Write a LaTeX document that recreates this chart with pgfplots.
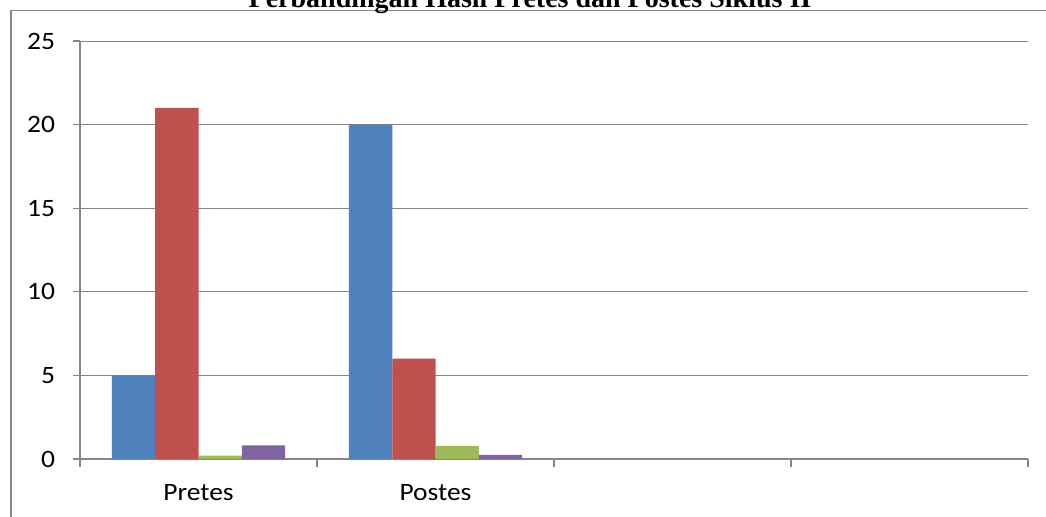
\documentclass[border=0pt]{standalone}
\usepackage{pgfplots}
\pgfplotsset{compat=1.18}
\usepackage{fontspec}
\setmainfont{Carlito}[FakeStretch=1.1]
\newfontfamily\titlefont{Liberation Serif}
\definecolor{cblue}{HTML}{4F81BD}
\definecolor{cred}{HTML}{C0504D}
\definecolor{cgreen}{HTML}{9BBB59}
\definecolor{cpurple}{HTML}{8064A2}
\definecolor{cgrid}{HTML}{868686}
\begin{document}
\begin{tikzpicture}
\useasboundingbox (0,0) rectangle (1046bp,-517bp);
\draw[cgrid, line width=1.2bp] (11bp,-10.5bp) rectangle (1080bp,-560bp);
\node[anchor=base, inner sep=0pt, font=\titlefont\fontsize{28bp}{32bp}\selectfont\bfseries] at (530bp,-7.5bp) {Perbandingan Hasil Pretes dan Postes Siklus II};
\begin{axis}[
  at={(80bp,-459bp)}, anchor=south west,
  scale only axis, width=948bp, height=418bp,
  ybar=0pt, bar width=0.1825,
  xmin=-0.5, xmax=3.5, ymin=0, ymax=25,
  ytick={0,5,...,25},
  xtick={-0.5,0.5,1.5,2.5,3.5}, xticklabels={},
  extra x ticks={0,1}, extra x tick labels={Pretes,Postes},
  extra x tick style={major tick length=0pt, xticklabel style={yshift=-22bp}},
  axis x line*=bottom, axis y line*=left,
  axis line style={-, cgrid, line width=1.2bp},
  tick style={cgrid, line width=1.2bp},
  tick align=outside, major tick length=7.5bp,
  ymajorgrids, grid style={cgrid, line width=1bp},
  ticklabel style={font=\fontsize{25bp}{29bp}\selectfont, text=black},
  /pgf/number format/assume math mode=true,
  yticklabel style={xshift=-14bp},
  clip=false,
]
\addplot[fill=cblue, draw=none] coordinates {(0,5) (1,20)};
\addplot[fill=cred, draw=none] coordinates {(0,21) (1,6)};
\addplot[fill=cgreen, draw=none] coordinates {(0,0.2) (1,0.78)};
\addplot[fill=cpurple, draw=none] coordinates {(0,0.82) (1,0.24)};
\end{axis}
\end{tikzpicture}
\end{document}
